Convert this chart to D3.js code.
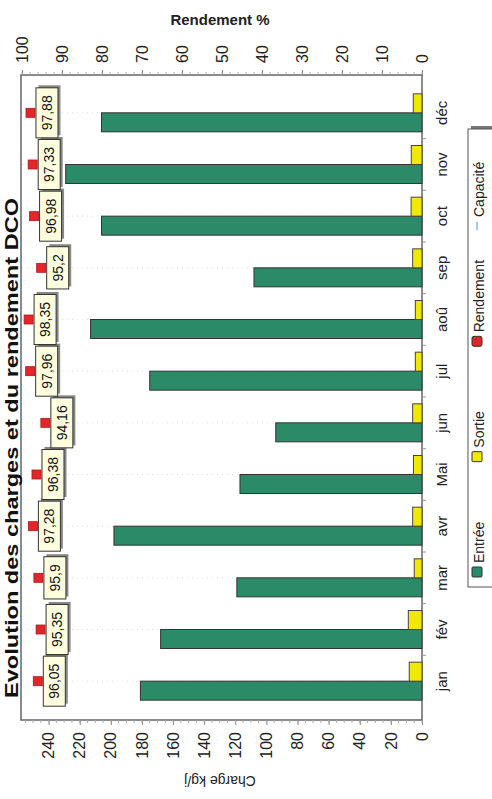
<!DOCTYPE html>
<html><head><meta charset="utf-8">
<script src="https://cdn.jsdelivr.net/npm/d3@7"></script>
<style>
html,body{margin:0;padding:0;background:#fff;}
svg{display:block;font-family:"Liberation Sans",Arial,sans-serif;}
</style></head>
<body><div id="chart"></div>
<script>
const months = ['jan','fév','mar','avr','Mai','jun','jul','aoû','sep','oct','nov','déc'];
const entree = [181,168,119,198,117,94,175,213,108,206,229,206];
const sortie = [8.2,8.8,5,6,5.5,6,4.3,4.3,6,7,6.9,5.6];
const rendement = [96.05,95.35,95.9,97.28,96.38,94.16,97.96,98.35,95.2,96.98,97.33,97.88];
const chargeTicks = [0,20,40,60,80,100,120,140,160,180,200,220,240];
const rendementTicks = [0,10,20,30,40,50,60,70,80,90,100];
const seriesNames = ['Entrée','Sortie'];
const legendNames = ['Entrée','Sortie','Rendement','Capacité'];
const title = 'Evolution des charges et du rendement DCO';

const W = 799, H = 492; // original (unrotated) chart frame
const svg = d3.select('#chart').append('svg').attr('width',492).attr('height',799);
const g = svg.append('g').attr('transform','translate(0,799) rotate(-90)');

const px0 = 79, px1 = 724, py0 = 22, py1 = 422;
const x = d3.scaleBand().domain(months).range([92,712]);
const xs = d3.scaleBand().domain(seriesNames).range([0,38]);
const yC = d3.scaleLinear().domain([0,257.1]).range([py1,py0]);
const yR = d3.scaleLinear().domain([0,100]).range([py1,py0]);
const colors = {'Entrée':'#2b8a68','Sortie':'#f2e800'};

// plot frame
g.append('rect').attr('x',px0).attr('y',py0-1).attr('width',px1-px0).attr('height',py1-py0+1)
 .attr('fill','#fff').attr('stroke','#666').attr('stroke-width',1.5);

// faint category gridlines
g.selectAll('.grid').data(months).join('line')
 .attr('x1',d=>x(d)+x.bandwidth()/2).attr('x2',d=>x(d)+x.bandwidth()/2)
 .attr('y1',py0).attr('y2',py1).attr('stroke','#ddd').attr('stroke-dasharray','1,4');

// bars
const grp = g.selectAll('.grp').data(months).join('g')
 .attr('transform',d=>`translate(${x(d)+x.bandwidth()/2-19},0)`);
grp.append('rect').attr('x',xs('Entrée')).attr('width',xs.bandwidth())
 .attr('y',(d,i)=>yC(entree[i])).attr('height',(d,i)=>yC(0)-yC(entree[i]))
 .attr('fill',colors['Entrée']).attr('stroke','#333').attr('stroke-width',1);
grp.append('rect').attr('x',xs('Sortie')).attr('width',xs.bandwidth())
 .attr('y',(d,i)=>yC(sortie[i])).attr('height',(d,i)=>yC(0)-yC(sortie[i]))
 .attr('fill',colors['Sortie']).attr('stroke','#444').attr('stroke-width',1);

// charge axis (left in original)
const axC = g.append('g').attr('transform',`translate(${px0},0)`)
 .call(d3.axisLeft(yC).tickValues(chargeTicks).tickSize(5).tickPadding(7));
axC.select('.domain').remove();
axC.selectAll('line').attr('stroke','#888');
axC.selectAll('text').attr('font-size',16).attr('fill','#222');
axC.append('g').selectAll('line').data(d3.range(0,256,5)).join('line')
 .attr('x1',-3).attr('x2',0).attr('y1',d=>yC(d)).attr('y2',d=>yC(d)).attr('stroke','#aaa');

// rendement axis (right in original)
const axR = g.append('g').attr('transform',`translate(${px1},0)`)
 .call(d3.axisRight(yR).tickValues(rendementTicks).tickSize(5).tickPadding(7));
axR.select('.domain').remove();
axR.selectAll('line').attr('stroke','#888');
axR.selectAll('text').attr('font-size',16).attr('fill','#222');
axR.append('g').selectAll('line').data(d3.range(0,101,2)).join('line')
 .attr('x1',0).attr('x2',3).attr('y1',d=>yR(d)).attr('y2',d=>yR(d)).attr('stroke','#aaa');

// category axis (bottom in original)
const axX = g.append('g').attr('transform',`translate(0,${py1})`)
 .call(d3.axisBottom(x).tickSize(0).tickPadding(14));
axX.select('.domain').remove();
axX.selectAll('text').attr('font-size',15).attr('fill','#222');
g.append('g').selectAll('line').data(months.slice(1)).join('line')
 .attr('x1',d=>x(d)).attr('x2',d=>x(d)).attr('y1',py1+1).attr('y2',py1+4)
 .attr('stroke','#999');

// rendement markers & labels
const fmt = v => String(v).replace('.',',');
const rg = g.selectAll('.rl').data(months).join('g')
 .attr('transform',(d,i)=>`translate(${x(d)+x.bandwidth()/2},${yR(rendement[i])})`);
rg.each(function(d,i){
  const s = d3.select(this);
  const t = s.append('text').attr('font-size',14).attr('text-anchor','middle')
    .attr('y',21.5).attr('fill','#111').text(fmt(rendement[i]));
  const w = t.node().getComputedTextLength() + 15;
  s.insert('rect','text').attr('x',-w/2+2.5).attr('y',8).attr('width',w).attr('height',22).attr('fill','#888');
  s.insert('rect','text').attr('x',-w/2).attr('y',5.5).attr('width',w).attr('height',22)
    .attr('fill','#ffffe0').attr('stroke','#333').attr('stroke-width',1);
});
rg.append('rect').attr('x',-4.5).attr('y',-4.5).attr('width',9).attr('height',9)
 .attr('fill','#e4262a').attr('stroke','#b01818').attr('stroke-width',0.8);

// titles
g.append('text').attr('transform','translate(23,220) rotate(-90)').attr('text-anchor','middle')
 .attr('font-size',14).attr('fill','#222').text('Charge kg/j');
g.append('text').attr('transform','translate(774,220) rotate(90)').attr('text-anchor','middle')
 .attr('font-size',15).attr('font-weight','bold').attr('fill','#222').text('Rendement %');
g.append('text').attr('x',351).attr('y',18).attr('text-anchor','middle')
 .attr('font-size',18).attr('font-weight','bold').attr('fill','#111')
 .attr('textLength',500).attr('lengthAdjust','spacingAndGlyphs').text(title);

// legend
const lg = g.append('g');
lg.append('rect').attr('x',215).attr('y',471).attr('width',458).attr('height',40).attr('fill','#777');
lg.append('rect').attr('x',212).attr('y',468).attr('width',458).attr('height',40)
 .attr('fill','#fff').attr('stroke','#555').attr('stroke-width',1);
const lx = d3.scalePoint().domain(legendNames).range([227,573]);
const items = lg.selectAll('.li').data(legendNames).join('g')
 .attr('transform',d=>`translate(${lx(d)},477)`);
items.each(function(d){
  const s = d3.select(this);
  if (d==='Capacité'){
    s.append('line').attr('x1',-4).attr('x2',4).attr('stroke','#8ab4e0').attr('stroke-width',1.5);
  } else {
    const c = d==='Entrée'?colors['Entrée']:d==='Sortie'?colors['Sortie']:'#d42a2a';
    s.append('rect').attr('x',-5).attr('y',-5).attr('width',10).attr('height',10)
     .attr('rx',d==='Rendement'?2:1).attr('fill',c).attr('stroke','#333').attr('stroke-width',1);
  }
  s.append('text').attr('x',9).attr('y',7).attr('font-size',14).attr('fill','#222').text(d);
});
</script></body></html>
